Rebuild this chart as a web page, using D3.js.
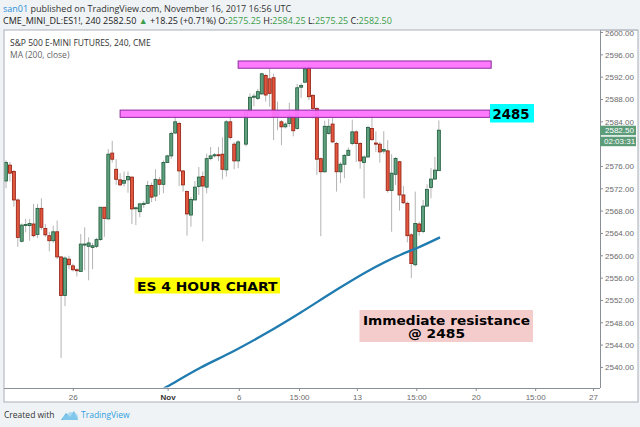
<!DOCTYPE html>
<html><head><meta charset="utf-8">
<script src="https://cdn.jsdelivr.net/npm/d3@7/dist/d3.min.js"></script>
<style>
html,body{margin:0;padding:0;background:#f0f3f6;}
svg{display:block;}
</style></head>
<body>
<svg id="c" width="640" height="427"></svg>
<script>
// ---------- data (4H candles, index = bar number) ----------
const opens  = [2573.4,2576.25,2575.1,2570.0,2562.6,2565.5,2565.4,2565.7,2563.8,2568.5,
 2564.9,2563.6,2562.7,2564.3,2559.8,2552.9,2559.4,2558.2,2557.5,2557.2,
 2562.0,2561.7,2561.5,2561.7,2562.9,2568.7,2566.6,2578.4,2575.5,2573.6,
 2573.0,2573.6,2574.1,2568.5,2567.9,2569.2,2569.4,2572.6,2570.7,2573.6,
 2572.8,2576.7,2577.9,2582.0,2583.7,2575.2,2571.5,2567.3,2570.0,2572.4,
 2574.2,2572.3,2577.4,2577.9,2578.1,2578.2,2575.4,2584.0,2580.0,2577.0,
 null,2580.0,2585.9,2588.4,2588.2,2589.0,2592.3,2591.7,2591.9,2585.0,
 2584.0,2583.1,2583.7,2585.0,2582.8,2590.2,2591.1,2593.7,2588.75,2586.4,
 2577.4,2575.05,2581.9,2583.6,2580.1,2575.05,2576.4,2578.0,2580.1,2582.2,
 2580.1,2576.7,2577.7,2582.8,2580.2,2580.0,2578.75,2578.8,2571.7,2574.6,
 2576.85,2570.9,2569.4,2563.75,2558.4,2565.7,2564.35,2568.9,2572.25,2573.75,
 2575.25];
const highs  = [2577.1,2576.8,2575.4,2570.3,2565.8,2566.6,2566.6,2569.3,2569.3,2570.3,
 2565.7,2564.3,2565.4,2566.3,2559.9,2559.9,2560.0,2558.6,2557.8,2563.9,
 2565.1,2563.3,2562.3,2563.2,2568.7,2568.7,2579.1,2580.6,2577.3,2574.8,
 2575.1,2575.1,2574.2,2568.8,2569.5,2569.8,2573.4,2573.1,2575.5,2574.1,
 2577.1,2578.1,2582.3,2585.4,2584.0,2575.4,2571.7,2570.5,2573.4,2575.9,
 2575.1,2578.3,2579.5,2578.4,2579.5,2581.2,2584.3,2585.6,2580.4,2580.7,
 null,2586.1,2589.1,2589.1,2589.9,2592.8,2592.6,2593.5,2592.6,2587.6,
 2584.3,2583.9,2587.4,2586.1,2590.8,2590.9,2594.4,2594.3,2588.9,2586.7,
 2577.6,2584.2,2584.5,2585.6,2580.4,2576.8,2578.2,2579.4,2584.4,2582.5,
 2580.4,2578.0,2583.3,2585.6,2582.3,2580.4,2582.3,2580.7,2578.2,2577.7,
 2577.0,2572.5,2569.7,2564.05,2571.5,2566.1,2570.0,2572.8,2575.7,2577.7,
 2584.25];
const lows   = [2572.1,2573.3,2568.8,2561.6,2562.4,2564.2,2562.7,2563.3,2563.2,2564.6,
 2563.4,2560.8,2562.3,2559.4,2541.7,2551.0,2557.6,2557.2,2556.3,2557.2,
 2557.4,2555.6,2557.6,2561.4,2562.7,2563.4,2566.6,2576.7,2572.7,2572.5,
 2572.4,2571.3,2565.7,2565.5,2566.9,2568.6,2569.4,2569.6,2569.8,2570.9,
 2571.2,2576.6,2577.4,2581.8,2572.5,2571.5,2563.6,2565.2,2570.0,2570.9,
 2562.6,2571.2,2577.1,2577.6,2577.0,2573.7,2574.2,2580.8,2575.5,2575.7,
 null,2579.6,2585.8,2586.8,2587.9,2588.8,2587.6,2586.7,2580.7,2582.5,
 2579.8,2582.8,2583.1,2581.4,2582.6,2588.3,2590.9,2587.9,2584.6,2574.5,
 2563.5,2574.9,2581.7,2580.2,2571.5,2573.0,2573.9,2577.9,2579.8,2576.8,
 2575.6,2570.3,2577.6,2580.6,2578.6,2576.7,2578.3,2571.3,2564.3,2572.7,
 2568.1,2569.3,2562.4,2556.0,2558.1,2563.6,2564.05,2568.85,2570.3,2573.6,
 2575.25];
const closes = [2576.7,2574.8,2570.0,2563.3,2565.5,2565.6,2565.8,2563.6,2568.5,2565.1,
 2563.75,2562.7,2564.3,2559.8,2552.9,2559.6,2558.4,2557.5,2557.4,2562.1,
 2562.1,2562.3,2561.8,2562.9,2568.7,2566.7,2578.2,2577.3,2573.7,2572.7,
 2573.5,2574.2,2568.4,2568.6,2569.3,2569.4,2572.6,2570.5,2573.7,2572.8,
 2576.7,2577.9,2581.9,2584.0,2575.2,2572.7,2567.5,2570.1,2572.3,2574.1,
 2572.5,2577.4,2577.9,2578.1,2578.0,2575.5,2584.0,2581.2,2577.0,2580.4,
 null,2585.8,2588.4,2588.6,2589.4,2592.6,2588.8,2589.1,2584.9,2586.0,
 2583.1,2583.6,2585.2,2582.4,2590.1,2590.5,2593.5,2588.5,2586.4,2577.3,
 2575.05,2583.2,2583.2,2580.4,2575.05,2576.4,2578.0,2578.9,2582.2,2580.1,
 2577.0,2577.7,2583.0,2580.8,2580.0,2578.6,2579.05,2571.7,2574.8,2577.45,
 2570.9,2569.5,2563.6,2558.6,2565.8,2564.35,2568.9,2571.9,2573.75,2575.35,
 2582.5];

// MA(200, close) read at a few bars
const maBars   = [40, 41, 49.4, 57.8, 66.3, 74.8, 83.3, 91.8, 100.3, 104.5, 110.3];
const maValues = [2536.2, 2536.6, 2539.95, 2542.9, 2546.2, 2549.8, 2553.6, 2557.2, 2560.2, 2561.4, 2563.3];

// price axis ticks
const priceTicks = [2540,2544,2548,2552,2556,2560,2564,2568,2572,2576,2580,2584,2588,2592,2596,2600];
// time axis: bar positions and labels
const timeTickBars   = [17.1, 41.2, 59.3, 74.6, 89.3, 104.4, 119.5, 134.6, 149.3];
const timeTickLabels = ["26","Nov","6","15:00","13","15:00","20","15:00","27"];

// drawn resistance zones: [startBar, endBar, lowPrice, highPrice]
const zoneStart = [29, 59];
const zoneEnd   = [123, 123.3];
const zoneLow   = [2584.8, 2593.6];
const zoneHigh  = [2586.1, 2594.9];

const lastPrice = 2582.50;
const lastTimer = "02:03:31";

// ---------- drawing ----------
const svg = d3.select("#c");
const panel = {l:4, r:638, t:30, b:402};
const plot = {l:4, r:600, t:30, b:388};

const x = d3.scaleLinear().domain([0, 150]).range([6, 6 + 150*3.935]);
const y = d3.scaleLinear().domain([2536.3, 2600]).range([388.1, 32.5]);

// header
const hdr = svg.append("text").attr("x",3).attr("y",12)
  .style("font-family","Open Sans").style("font-size","9px").attr("fill","#333");
hdr.append("tspan").attr("fill","#2a8fd8").text("san01");
hdr.append("tspan").text(" published on TradingView.com, November 16, 2017 16:56 UTC");

const green = "#3b9e4a";
const h2 = svg.append("text").attr("x",3).attr("y",24)
  .style("font-family","Open Sans").style("font-size","9px").attr("fill","#222");
h2.append("tspan").text("CME_MINI_DL:ES1!, 240  ");
h2.append("tspan").text(d3.format(".2f")(closes[closes.length-1]) + " ");
h2.append("tspan").attr("fill",green).text("▲");
h2.append("tspan").text(" +18.25 (+0.71%) O:");
h2.append("tspan").attr("fill",green).text("2575.25");
h2.append("tspan").text(" H:");
h2.append("tspan").attr("fill",green).text("2584.25");
h2.append("tspan").text(" L:");
h2.append("tspan").attr("fill",green).text("2575.25");
h2.append("tspan").text(" C:");
h2.append("tspan").attr("fill",green).text("2582.50");

// panel
svg.append("rect").attr("x",panel.l).attr("y",panel.t).attr("width",panel.r-panel.l).attr("height",panel.b-panel.t)
  .attr("fill","#fff").attr("stroke","#a9b0b8").attr("stroke-width",1);

svg.append("text").attr("x",10).attr("y",46).style("font-family","Open Sans").style("font-size","8.5px")
  .attr("fill","#333").text("S&P 500 E-MINI FUTURES, 240, CME");
svg.append("text").attr("x",10).attr("y",57.5).style("font-family","Open Sans").style("font-size","8.5px")
  .attr("fill","#666").text("MA (200, close)");

svg.append("defs").append("clipPath").attr("id","clip").append("rect")
  .attr("x",plot.l+0.5).attr("y",plot.t+0.5).attr("width",plot.r-plot.l-1).attr("height",plot.b-plot.t-1);

const g = svg.append("g").attr("clip-path","url(#clip)");

const idx = d3.range(opens.length).filter(i => opens[i] !== null);

// wicks
g.selectAll("line.wick").data(idx).join("line").attr("class","wick")
  .attr("x1", i => x(i)).attr("x2", i => x(i))
  .attr("y1", i => y(highs[i])).attr("y2", i => y(lows[i]))
  .attr("stroke","#b4b4b4").attr("stroke-width",1);

// bodies
const bw = 3;
g.selectAll("rect.body").data(idx).join("rect").attr("class","body")
  .attr("x", i => x(i) - bw/2)
  .attr("y", i => y(Math.max(opens[i], closes[i])))
  .attr("width", bw)
  .attr("height", i => Math.max(1, Math.abs(y(opens[i]) - y(closes[i]))))
  .attr("fill", i => closes[i] >= opens[i] ? "#5fa17f" : "#e4573f")
  .attr("stroke", i => closes[i] >= opens[i] ? "#1f5a3a" : "#8e1c0e")
  .attr("stroke-width",0.8);

// MA line
const maPts = maBars.map((b,k) => [b, maValues[k]]);
g.append("path").datum(maPts)
  .attr("d", d3.line().x(d => x(d[0])).y(d => y(d[1])).curve(d3.curveMonotoneX))
  .attr("fill","none").attr("stroke","#1f7bb0").attr("stroke-width",2.3);

// zones (drawn rectangles)
zoneStart.forEach((s,k) => {
  svg.append("rect").attr("x", x(s)).attr("y", y(zoneHigh[k]))
    .attr("width", x(zoneEnd[k]) - x(s)).attr("height", y(zoneLow[k]) - y(zoneHigh[k]))
    .attr("fill","#ff73ff").attr("fill-opacity",0.95).attr("stroke","#8c2a9e").attr("stroke-width",1);
});

// right price axis
svg.append("line").attr("x1",plot.r+0.5).attr("x2",plot.r+0.5).attr("y1",plot.t).attr("y2",plot.b)
  .attr("stroke","#8a8f96");
const labelTop = y(lastPrice)-4.5, labelBottom = y(lastPrice)+16;
const pa = svg.append("g");
priceTicks.forEach(p => {
  pa.append("line").attr("x1",plot.r).attr("x2",plot.r+3).attr("y1",y(p)).attr("y2",y(p)).attr("stroke","#8a8f96");
  // labels hidden behind the last-price marker are not shown
  if (y(p) + 3.5 > labelTop && y(p) - 3.5 < labelBottom) return;
  pa.append("text").attr("x",605).attr("y",y(p)+3).style("font-family","Liberation Sans").style("font-size","8px")
    .attr("fill","#6b6b6b").text(d3.format(".2f")(p));
});
// top label overflow is cut by the panel edge
svg.append("rect").attr("x",600).attr("y",0).attr("width",40).attr("height",panel.t-0.5).attr("fill","#f0f3f6");
svg.append("line").attr("x1",600).attr("x2",panel.r).attr("y1",panel.t).attr("y2",panel.t).attr("stroke","#a9b0b8");

// last price label
svg.append("rect").attr("x",600).attr("y",y(lastPrice)-4.5).attr("width",36).attr("height",9.5).attr("fill","#5c9c79");
svg.append("text").attr("x",605).attr("y",y(lastPrice)+3).style("font-family","Liberation Sans").style("font-size","8px")
  .attr("fill","#fff").text(d3.format(".2f")(lastPrice));
svg.append("rect").attr("x",600).attr("y",y(lastPrice)+6.5).attr("width",36).attr("height",9.5).attr("fill","#5c9c79");
svg.append("text").attr("x",604).attr("y",y(lastPrice)+14).style("font-family","Liberation Sans").style("font-size","8px")
  .attr("fill","#fff").text(lastTimer);

// bottom time axis
svg.append("line").attr("x1",panel.l).attr("x2",plot.r).attr("y1",plot.b+0.5).attr("y2",plot.b+0.5).attr("stroke","#8a8f96");
timeTickBars.forEach((b,k) => {
  svg.append("line").attr("x1",x(b)).attr("x2",x(b)).attr("y1",plot.b).attr("y2",plot.b+3).attr("stroke","#8a8f96");
  svg.append("text").attr("x",x(b)).attr("y",399.5).attr("text-anchor","middle")
    .style("font-family","Liberation Sans").style("font-size","8px")
    .attr("fill", timeTickLabels[k]==="Nov" ? "#333" : "#6b6b6b")
    .style("font-weight", timeTickLabels[k]==="Nov" ? "bold" : "normal")
    .text(timeTickLabels[k]);
});

// annotations
function boxText(x0,y0,w,h,bg,lines,fs){
  svg.append("rect").attr("x",x0).attr("y",y0).attr("width",w).attr("height",h).attr("fill",bg);
  lines.forEach(L => {
    const t = svg.append("text").attr("x",L.x).attr("y",L.y)
      .style("font-family","DejaVu Sans").style("font-weight","bold").style("font-size",fs+"px")
      .attr("fill","#000").text(L.t);
    if (L.w) t.attr("textLength",L.w).attr("lengthAdjust","spacingAndGlyphs");
  });
}
boxText(490,104,44,18.5,"#00ffff",[{t:"2485",x:492.5,y:118.5,w:37}],14);
boxText(134.5,277.5,145.5,16,"#ffff00",[{t:"ES 4 HOUR CHART",x:137,y:291,w:140.5}],13);
boxText(359.5,310,173.5,32,"#f4cccc",[{t:"Immediate resistance",x:363,y:324.5,w:167},{t:"@ 2485",x:408,y:338,w:57}],13);

// footer
svg.append("text").attr("x",4).attr("y",418).style("font-family","Open Sans").style("font-size","8.5px")
  .attr("fill","#333").text("Created with");
const logo = svg.append("g").attr("transform","translate(61,409)");
logo.append("path").attr("d","M0,11 L5,4 L9,8 L13,2 L17,11 Z").attr("fill","#5fb4e0");
logo.append("path").attr("d","M2,11 Q1,6 6,6 Q8,1 13,4 Q18,4 17,11 Z").attr("fill","#8ecff0").attr("opacity",0.7);
svg.append("text").attr("x",81).attr("y",418).style("font-family","Open Sans").style("font-size","8.5px")
  .attr("fill","#2f9fe0").text("TradingView");
</script>
</body></html>
